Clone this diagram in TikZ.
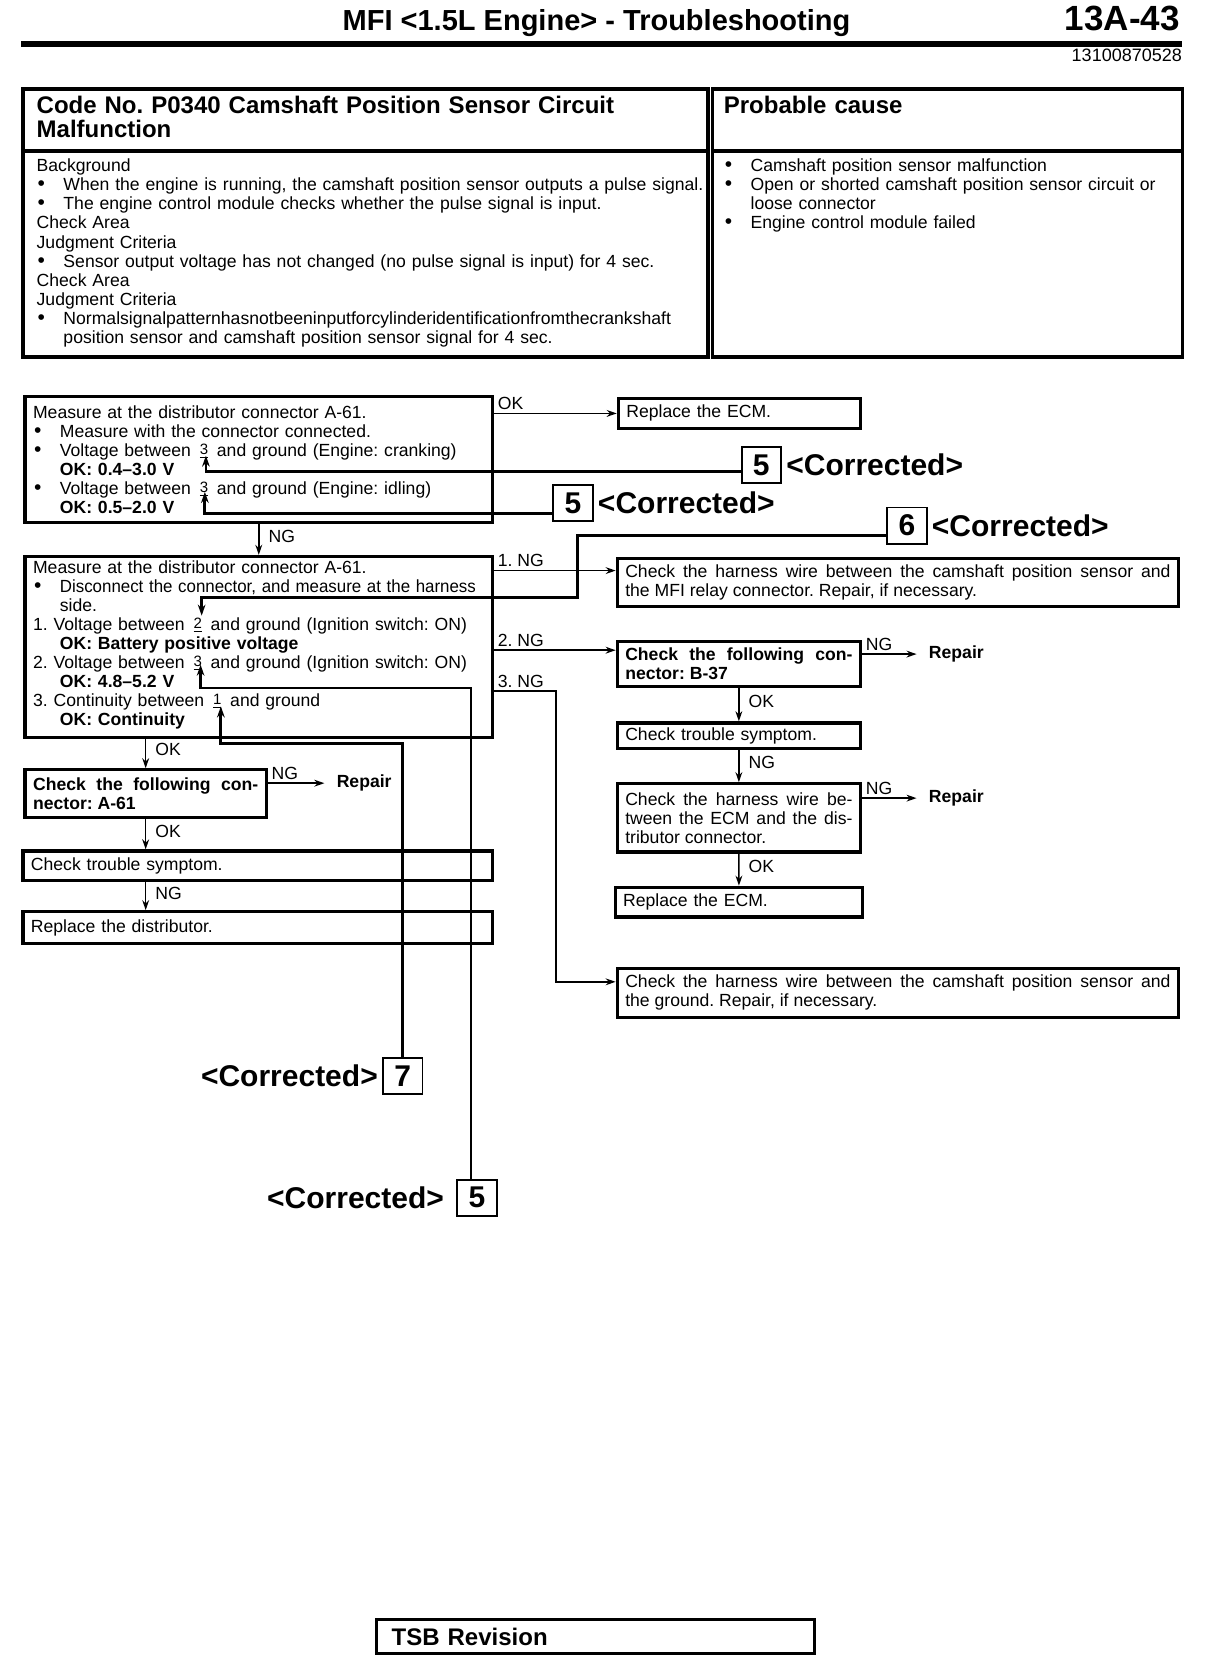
\documentclass[tikz,border=0pt]{standalone}
\usepackage{fontspec}
\usepackage{graphicx}
\setmainfont{Liberation Sans}
\usetikzlibrary{arrows.meta,positioning}
\frenchspacing

\newcommand\flowfont{\fontsize{8.8}{9.5}\selectfont}
\newcommand\tabfont{\fontsize{8.8}{9.53}\selectfont}
\newcommand\headfont{\fontsize{12}{12}\selectfont\bfseries}
\newcommand\corrfont{\fontsize{15}{16}\selectfont\bfseries}
\newcommand\flowbul{\makebox[13.4pt][l]{\hspace{0.5pt}{\fontsize{10.5}{9}\selectfont\textbullet}}}
\newcommand\flowind{\hspace*{13.4pt}}
\newcommand\pin[1]{\,\raisebox{0.15ex}{\fontsize{7.5}{8}\selectfont\underline{#1}}\,}

\tikzset{
  stepbox/.style={draw, line width=1.6pt, anchor=north west, inner xsep=4pt,
    inner ysep=1pt, align=left, font=\flowfont},
  boldbox/.style={stepbox, font=\flowfont\bfseries},
  tablebox/.style={draw, line width=1.6pt, anchor=north west, inner sep=0pt},
  tabtext/.style={anchor=base west, inner sep=0pt, align=left, font=\tabfont},
  flow/.style={line width=0.8pt, -{Stealth[length=5pt,width=3.4pt]}},
  fixline/.style={line width=1.4pt, -{Stealth[length=5.5pt,width=3.8pt]}},
  flowlbl/.style={font=\flowfont, inner sep=1.5pt},
  repairlbl/.style={font=\flowfont\bfseries, anchor=west, inner xsep=6pt, inner ysep=1pt},
  numbox/.style={draw, line width=0.9pt, minimum width=19.7pt, minimum height=18.1pt,
    inner sep=0pt, font=\corrfont},
  corr/.style={inner sep=0pt, font=\corrfont},
}

\begin{document}
\begin{tikzpicture}[x=0.5335pt, y=-0.5335pt]
	\fill[white] (0,0) rectangle (1140,1567);
	\useasboundingbox (0,0) rectangle (1140,1567);

	% page header
	\node[font=\fontsize{14.5}{16}\selectfont\bfseries, anchor=base, inner sep=0pt] (title) at (559,29) {MFI <1.5L Engine> - Troubleshooting};
	\node[font=\fontsize{17.5}{19}\selectfont\bfseries, anchor=base east, inner sep=0pt] (pageno) at (1106,29) {13A-43};
	\draw[line width=3.2pt] (20,41) -- (1108,41);
	\node[font=\fontsize{9}{10}\selectfont, anchor=base east, inner sep=0pt] (docno) at (1108,58) {13100870528};

	% code table
	\node[tablebox, minimum width=342.5pt, minimum height=30.9pt] (codeHead) at (20,82) {};
	\node[tablebox, minimum width=342.5pt, minimum height=103pt] (codeBody) at (20,140) {};
	\node[tablebox, minimum width=235pt, minimum height=30.9pt] (causeHead) at (666,82) {};
	\node[tablebox, minimum width=235pt, minimum height=103pt] (causeBody) at (666,140) {};
	\node[tabtext, font=\headfont, text width=335pt] (codeTitle) at (34,106) {Code No. P0340 Camshaft Position Sensor Circuit\\Malfunction};
	\node[tabtext, font=\headfont, text width=225pt] (causeTitle) at (678,106) {Probable cause};
	\node[tabtext, text width=336pt] (codeText) at (34,161) {Background\\
		\flowbul When the engine is running, the camshaft position sensor outputs a pulse signal.\\
		\flowbul The engine control module checks whether the pulse signal is input.\\
		Check Area\\
		Judgment Criteria\\
		\flowbul Sensor output voltage has not changed (no pulse signal is input) for 4 sec.\\
		Check Area\\
		Judgment Criteria\\
		\flowbul Normalsignalpatternhasnotbeeninputforcylinderidentificationfromthecrankshaft\\
		\flowind position sensor and camshaft position sensor signal for 4 sec.};
	\node[tabtext, text width=225pt] (causeText) at (678,161) {\flowbul Camshaft position sensor malfunction\\
		\flowbul Open or shorted camshaft position sensor circuit or\\
		\flowind loose connector\\
		\flowbul Engine control module failed};

	% left column
	\node[stepbox, text width=225.7pt, minimum height=63pt] (measA) at (22,370) {Measure at the distributor connector A-61.\\
		\flowbul Measure with the connector connected.\\
		\flowbul Voltage between \pin{3} and ground (Engine: cranking)\\
		\flowind\textbf{OK: 0.4–3.0 V}\\
		\flowbul Voltage between \pin{3} and ground (Engine: idling)\\
		\flowind\textbf{OK: 0.5–2.0 V}};
	\node[stepbox, text width=225.7pt, minimum height=90.7pt] (measB) at (22,520) {Measure at the distributor connector A-61.\\
		\flowbul\scalebox{0.96}[1]{Disconnect the connector, and measure at the harness}\\
		\flowind side.\\
		1. Voltage between \pin{2} and ground (Ignition switch: ON)\\
		\flowind\textbf{OK: Battery positive voltage}\\
		2. Voltage between \pin{3} and ground (Ignition switch: ON)\\
		\flowind\textbf{OK: 4.8–5.2 V}\\
		3. Continuity between \pin{1} and ground\\
		\flowind\textbf{OK: Continuity}\rule[-4.5pt]{0pt}{4.5pt}};
	\node[boldbox, align=justify, text width=112.6pt, minimum height=24pt] (connA) at (22,720) {Check the following con-\linebreak nector: A-61};
	\node[repairlbl] (repA) at (304,734) {Repair};
	\node[stepbox, text width=226.7pt, minimum height=14.9pt] (symp1) at (20,796) {Check trouble symptom.};
	\node[stepbox, text width=226.7pt, minimum height=16pt] (dist) at (20,853) {Replace the distributor.};

	% right column
	\node[stepbox, text width=113.1pt, minimum height=14.9pt] (ecm1) at (578,372) {Replace the ECM.};
	\node[stepbox, align=justify, text width=272.6pt, minimum height=24pt] (harnA) at (577,522) {Check the harness wire between the camshaft position sensor and\linebreak the MFI relay connector. Repair, if necessary.};
	\node[boldbox, align=justify, text width=113.6pt, minimum height=22.4pt] (connB) at (577,600) {Check the following con-\linebreak nector: B-37};
	\node[repairlbl] (repB) at (859,613) {Repair};
	\node[stepbox, text width=113.6pt, minimum height=12.8pt] (symp2) at (577,676) {Check trouble symptom.};
	\node[stepbox, align=justify, text width=113.6pt, minimum height=34.1pt] (harnC) at (577,733) {Check the harness wire be-\linebreak tween the ECM and the dis-\linebreak tributor connector.};
	\node[repairlbl] (repC) at (859,748) {Repair};
	\node[stepbox, text width=115.8pt, minimum height=14.9pt] (ecm2) at (575,830) {Replace the ECM.};
	\node[stepbox, align=justify, text width=272.6pt, minimum height=24.5pt] (harnB) at (577,906) {Check the harness wire between the camshaft position sensor and\linebreak the ground. Repair, if necessary.};

	% flow arrows
	\draw[flow] (measA.east |- ecm1.west) node[flowlbl, above right] (okA) {OK} -- (ecm1.west);
	\draw[flow] (measA.south) -- (measB.north) node[flowlbl, right=3pt, pos=0.4] (ngA) {NG};
	\coordinate (inHarnA) at ([yshift=6pt]harnA.west);
	\coordinate (inConnB) at ([yshift=7pt]connB.west);
	\coordinate (inHarnB) at ([yshift=5.5pt]harnB.west);
	\draw[flow] (measB.east |- inHarnA) node[flowlbl, above right] (ngB1) {1. NG} -- (inHarnA);
	\draw[flow] (measB.east |- inConnB) node[flowlbl, above right] (ngB2) {2. NG} -- (inConnB);
	\draw[flow] ([yshift=-22pt]measB.east) node[flowlbl, above right] (ngB3) {3. NG} -- ++(58,0) |- (inHarnB);
	\draw[flow] (connA.north |- measB.south) -- (connA.north) node[flowlbl, right=3pt, pos=0.35] (okB) {OK};
	\draw[flow] (connA.east |- repA.west) node[flowlbl, above right] (ngConnA) {NG} -- (repA.west);
	\draw[flow] (connA.south) -- (connA.south |- symp1.north) node[flowlbl, right=3pt, pos=0.4] (okConnA) {OK};
	\draw[flow] (connA.south |- symp1.south) -- (connA.south |- dist.north) node[flowlbl, right=3pt, pos=0.4] (ngSymp1) {NG};
	\draw[flow] (connB.east |- repB.west) node[flowlbl, above right] (ngConnB) {NG} -- (repB.west);
	\draw[flow] (connB.south) -- (symp2.north) node[flowlbl, right=3pt, pos=0.4] (okConnB) {OK};
	\draw[flow] (symp2.south) -- (harnC.north) node[flowlbl, right=3pt, pos=0.4] (ngSymp2) {NG};
	\draw[flow] (harnC.east |- repC.west) node[flowlbl, above right] (ngHarnC) {NG} -- (repC.west);
	\draw[flow] (harnC.south) -- (ecm2.north) node[flowlbl, right=3pt, pos=0.4] (okHarnC) {OK};

	% corrections
	\node[numbox] (num5a) at (713.5,436) {5};
	\node[corr, right=2pt of num5a] (corr5a) {<Corrected>};
	\node[numbox] (num5b) at (537,471.5) {5};
	\node[corr, right=2pt of num5b] (corr5b) {<Corrected>};
	\node[numbox] (num6) at (850,492.5) {6};
	\node[corr, right=2pt of num6] (corr6) {<Corrected>};
	\node[numbox] (num7) at (377.5,1008.5) {7};
	\node[corr, left=2pt of num7] (corr7) {<Corrected>};
	\node[numbox] (num5c) at (447,1122.5) {5};
	\node[corr, left=6pt of num5c] (corr5c) {<Corrected>};
	\coordinate (pinA1) at (193,427);
	\coordinate (pinA2) at (192,461);
	\coordinate (pinB1) at (189,577);
	\coordinate (pinB2) at (188,623);
	\coordinate (pinB3) at (207,662);
	\draw[fixline] ([yshift=-3pt]num5a.west) -| (pinA1);
	\draw[fixline] ([yshift=-5pt]num5b.west) -| (pinA2);
	\draw[fixline] ([yshift=-5pt]num6.west) -| (541,560) -| (pinB1);
	\draw[fixline] (num7.north) -- ++(0,-294) -| (pinB3);
	\draw[fixline] ([xshift=-3pt]num5c.north) -- ++(0,-460) -| (pinB2);

	% footer
	\node[draw, line width=1.6pt, anchor=north west, inner xsep=7.5pt, text width=204pt, minimum height=16.8pt, align=left, font=\headfont] (tsb) at (351.5,1516.6) {TSB Revision};
\end{tikzpicture}
\end{document}
